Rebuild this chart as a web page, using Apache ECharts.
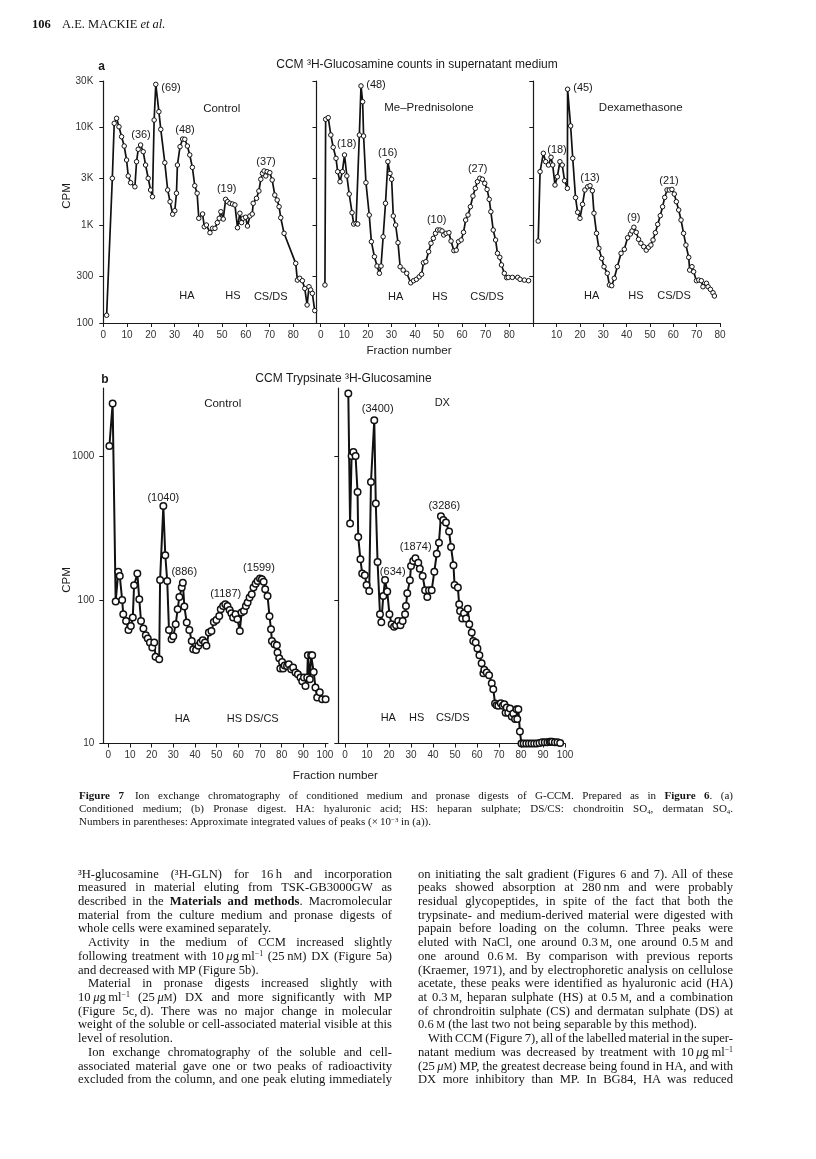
<!DOCTYPE html>
<html><head><meta charset="utf-8">
<script src="https://cdn.jsdelivr.net/npm/echarts@6/dist/echarts.min.js"></script>
<style>
html,body{margin:0;padding:0;background:#fff;}
#page{position:relative;width:816px;height:1159px;overflow:hidden;background:#fff;}
#chart{position:absolute;left:0;top:0;width:816px;height:1159px;}
.ln{position:absolute;font-family:"Liberation Serif","DejaVu Serif",serif;white-space:nowrap;color:#141414;line-height:14px;}
.sc{font-size:78%;}
sup{font-size:0.62em;line-height:0;vertical-align:0.5em;}
sub{font-size:0.62em;line-height:0;vertical-align:-0.3em;}
</style></head>
<body><div id="page"><div id="chart"></div></div>
<script>
// ---------------- DATA ----------------
// Panel a: CPM (log) vs fraction number, [fraction, cpm]
const aControl = [[1.4,120],[3.8,3030],[4.6,11070],[5.6,12450],[6.6,10200],[7.7,8070],[8.8,6480],[9.8,4660],[10.5,3200],[11.5,2730],[13.3,2480],[14,4480],[14.7,6000],[15.7,6640],[16.8,5670],[17.8,4140],[18.9,3030],[19.9,2300],[20.7,1960],[21.4,11960],[22.1,27700],[23.4,14550],[24.2,9600],[25.9,4370],[27.1,2300],[28.1,1745],[29.2,1300],[30.1,1410],[30.8,2130],[31.2,4140],[32.3,6380],[33.4,7640],[34.3,7590],[35.4,6480],[36.4,5250],[37.5,3920],[38.5,2540],[39.5,2130],[40.2,1180],[41.8,1305],[42.5,968],[43.4,1007],[44.9,840],[46,931],[47,931],[48,1065],[48.8,1180],[49.5,1377],[50.5,1160],[51.5,1845],[52.3,1745],[53.3,1680],[54.4,1650],[55.4,1615],[56.5,945],[57.5,1330],[58.2,1065],[58.9,1180],[59.9,1210],[60.7,984],[61.7,1245],[62.7,1305],[63.1,1680],[64.5,1890],[65.5,2245],[66.3,2960],[67,3400],[67.7,3600],[68.4,3200],[69,3540],[70.1,3460],[71.1,2910],[72.2,2040],[73.2,1815],[74,1550],[74.7,1195],[76.1,828],[81,408],[81.7,275],[82.7,287],[83.8,271],[84.8,226],[85.8,153],[86.6,235],[87.3,218],[88,201],[89,134]];
const aMePred = [[1.8,245],[2.1,12160],[3.2,12640],[4.3,8400],[5.3,6290],[6.5,4850],[7.2,3540],[8.2,2795],[9.2,3540],[10.1,5250],[11.1,3200],[12.1,2090],[13.3,1345],[14,1030],[15,1045],[15.7,1030],[16.4,8400],[17.1,26700],[17.8,18400],[18.2,8200],[19.2,2730],[20.6,1275],[21.5,680],[22.8,477],[23.9,383],[24.9,323],[25.6,383],[26.5,764],[27.5,1680],[28.5,4480],[29.4,3400],[30.1,2960],[30.8,1245],[31.8,1007],[32.8,664],[33.7,377],[35,348],[36.5,323],[38.2,258],[39.4,271],[40.6,280],[41.8,297],[42.8,315],[43.6,414],[44.6,424],[45.8,537],[46.8,655],[47.8,736],[48.7,828],[49.6,895],[50.6,895],[51.5,875],[52.2,796],[53.2,828],[54.4,840],[55.3,690],[56.5,550],[57.5,557],[58.5,680],[59.6,708],[60.6,848],[61.5,1133],[62.5,1275],[63.5,1550],[64.6,1995],[65.6,2390],[66.5,2795],[67.5,3030],[68.6,2960],[69.6,2690],[70.6,2330],[71.5,1845],[72.2,1377],[73.2,895],[74.2,708],[75,517],[76,470],[76.7,393],[77.9,323],[78.9,291],[79.6,293],[81.3,293],[83.6,293],[84.6,280],[86.4,275],[88.2,271]];
const aDexa = [[2.1,690],[2.9,3540],[4.3,5460],[5.3,4480],[6.5,4140],[7.6,4970],[8.3,4140],[9.3,2585],[10.3,3140],[11.4,4480],[12.4,4140],[13.4,2860],[14.6,2390],[14.7,24700],[16,10400],[16.9,4850],[18.1,1920],[19,1360],[20,1180],[21.1,1640],[22.1,2300],[23.3,2480],[24.3,2540],[25.3,2260],[26,1330],[27.1,828],[28.1,582],[29.3,459],[30.3,377],[31.7,323],[32.6,245],[33.6,241],[34.7,287],[36,377],[37.6,517],[39,568],[40.4,746],[41.6,815],[42.3,875],[43.1,955],[44.1,848],[45.1,719],[46.1,655],[47.3,604],[48.4,557],[49.4,596],[50.4,628],[51.3,708],[52.3,840],[53.3,1023],[54.4,1255],[55.4,1550],[56.3,1930],[57.3,2300],[58.3,2300],[59.4,2330],[60.4,2090],[61.3,1745],[62.3,1435],[63.3,1133],[64.4,828],[65.4,628],[66.6,470],[67,348],[68,377],[68.7,335],[69.9,271],[70.9,275],[72,271],[72.7,235],[74.2,255],[74.9,235],[75.9,221],[77,204],[77.6,189]];
// Panel b: CPM (log) vs fraction number
const bControl = [[0.5,1183],[2,2337],[3.4,97.5],[4.6,157],[5.3,147],[6.4,100],[6.9,79.5],[8.2,71.4],[9.3,61.8],[10.4,65.9],[11.3,75.4],[11.9,126.6],[13.4,153],[14.3,101],[15.1,71.4],[16.2,63.2],[17.3,56.8],[18.2,53.8],[19.2,50.5],[20.3,46.6],[21.2,50.5],[21.8,40.3],[23.5,38.6],[23.9,137.8],[25.4,452],[26.3,205],[27.2,135.6],[28,61.8],[29.2,53.3],[30,56],[31.1,67.7],[32,86.2],[32.8,105],[33.9,122],[34.4,132],[35.1,90],[36.2,69.6],[37.4,61.8],[38.5,51.8],[39.2,45.3],[40.5,44.9],[41.6,47.9],[42.6,50.5],[43.6,52.4],[44.6,50.5],[45.3,47.9],[46.4,59.3],[47.6,60.9],[48.7,70.3],[49.9,72.5],[51.2,77.4],[51.9,86.2],[53,90.8],[54,93.3],[55,90.8],[56,85.2],[56.8,80.8],[57.6,75.4],[58.7,79.5],[59.6,73.4],[60.7,60.9],[61.5,81.7],[62.6,83.8],[63.5,90.8],[64.3,95.9],[65.2,104],[66.2,109.6],[67,122],[68,130],[68.9,135.6],[70,141],[70.9,139.4],[71.7,134],[72.4,118.7],[73.5,106.6],[74.4,77],[75.1,62.5],[75.5,51.8],[76.7,49.2],[77.8,48.4],[78.1,43],[78.9,39.2],[79.4,33.3],[80.2,37],[80.7,33.3],[81.4,35],[82.5,34.7],[83.3,35.6],[84.4,32.9],[85.3,33.8],[86.4,31.2],[87.5,30.4],[88.7,28.8],[89.5,27.2],[90.3,28.8],[91,25.2],[91.8,28.8],[92.1,41.2],[93,28],[93.6,41.2],[94.1,41.2],[94.8,31.5],[95.6,24.6],[96.4,20.9],[97.6,22.8],[98.7,20.3],[100.3,20.3]];
const bDX = [[1.5,2743],[2.3,341],[3,1007],[3.8,1075],[4.8,1007],[5.7,566],[6,275],[7,192],[7.8,153],[9,149],[9.8,127],[11,115.5],[11.8,664],[13.3,1788],[14,470],[14.8,184],[15.9,79.5],[16.5,70],[17.4,106.6],[18.2,137.9],[19.2,114.4],[20.2,79.5],[21.2,67.7],[22.3,65.2],[23.2,66.6],[24.2,71.4],[25.2,66.6],[26.2,71.4],[27.3,79.5],[27.7,90.8],[28.3,111.3],[29.5,137],[30,172.6],[31,187],[32,195],[33.3,182],[34,165],[35.3,147],[36.4,117],[37.4,105],[38.2,117],[39.4,117],[40.6,157.6],[41.7,210],[42.7,251],[43.6,384],[44.7,361],[45.9,346],[47.3,300],[48.2,234],[49.3,174.6],[49.8,127],[51.3,122],[51.9,93.3],[52.3,83.8],[53.3,74.2],[54.1,80.8],[55,74.2],[55.8,87],[56.5,67.7],[57.6,59.3],[58.3,51.8],[59.4,50.5],[60.2,45.9],[61.1,41.2],[62.1,36.2],[62.9,30.9],[63.3,32.6],[64.4,31.2],[65.5,29.9],[66.7,26.3],[67.4,23.9],[68.2,19],[68.9,18.5],[69.7,18.3],[70.8,19.1],[71.7,18.3],[72.4,18.8],[73,16.4],[73.5,17.8],[74.2,16.4],[75,17.5],[75.8,15.4],[76.5,16.2],[77.3,14.8],[78,17.3],[78.3,14.8],[78.8,17.3],[79.5,12.1],[80.2,10],[81.2,10],[82.4,10],[83.6,10],[84.8,10],[86,10],[87.2,10],[88.4,10.1],[89.6,10.2],[90.8,10.2],[92,10.2],[93,10.3],[93.6,10.3],[94.2,10.3],[95.4,10.2],[96.6,10.2],[97.8,10.1]];

// Tick values / labels
const cpmTicksA = [100, 300, 1000, 3000, 10000, 30000];
const cpmTicksB = [10, 100, 1000];
const fracTicksA = [0, 10, 20, 30, 40, 50, 60, 70, 80];
const fracLabelsA3 = [10, 20, 30, 40, 50, 60, 70, 80];
const fracTicksB = [0, 10, 20, 30, 40, 50, 60, 70, 80, 90, 100];

// Text annotations
const titleA = 'CCM \u00b3H-Glucosamine counts in supernatant medium';
const titleB = 'CCM Trypsinate \u00b3H-Glucosamine';
const annA = [['(69)',171,87.7],['Control',221.7,109],['(36)',141,135],['(48)',185,130],['(19)',226.7,189],['(37)',266,161.7],['HA',187,296],['HS',233,296],['CS/DS',270.7,296.5],
  ['(48)',376,85],['Me\u2013Prednisolone',429,108],['(18)',346.7,144],['(16)',387.7,152.7],['(10)',436.7,220],['(27)',477.7,169],['HA',395.7,296.5],['HS',440,296.5],['CS/DS',487,296.5],
  ['(45)',583,88],['Dexamethasone',640.7,107.7],['(18)',557,150],['(13)',590,177.7],['(9)',633.7,217.7],['(21)',669,181],['HA',591.7,296],['HS',636,296],['CS/DS',674,296]];
const annB = [['Control',222.7,404.3],['(1040)',163.3,497.7],['(886)',184.3,572.3],['(1187)',225.7,594.3],['(1599)',259,567.7],['HA',182.3,719.3],['HS DS/CS',252.7,719.3],
  ['DX',442.3,403.3],['(3400)',377.7,409.3],['(3286)',444.3,505.7],['(1874)',415.7,547.3],['(634)',392.7,572.3],['HA',388.3,717.7],['HS',416.7,717.7],['CS/DS',452.7,717.7]];

// ---------------- CHART ----------------
const SANS = '"Liberation Sans", Arial, sans-serif';
const INK = '#1a1a1a';
const grids = [
  {left:103.3, top:81, width:212.6, height:242},
  {left:316.5, top:81, width:216.2, height:242},
  {left:533.3, top:81, width:186.7, height:242},
  {left:103.3, top:388, width:224.7, height:355.5},
  {left:338.3, top:388, width:226.7, height:355.5}
].map(g => Object.assign({outerBoundsMode:'none', containLabel:false, show:false}, g));

function xAx(gi, min, max, ticks, labels) {
  return {type:'value', gridIndex:gi, min:min, max:max,
    axisLine:{show:true, onZero:false, lineStyle:{color:INK, width:1.2}},
    axisTick:{show:true, inside:false, length:4, customValues:ticks, lineStyle:{color:INK, width:1}},
    axisLabel:{show:true, customValues:labels, margin:7, color:'#333', fontSize:10, fontFamily:SANS},
    splitLine:{show:false}};
}
function fmtK(v){ const r = Math.round(v); return r >= 1000 ? (r/1000) + 'K' : String(r); }
function fmtPlain(v){ return String(Math.round(v)); }
function yAx(gi, min, max, ticks, showLab, margin, fmt) {
  return {type:'log', logBase:10, gridIndex:gi, min:min, max:max,
    axisLine:{show:true, onZero:false, lineStyle:{color:INK, width:1.2}},
    axisTick:{show:true, inside:false, length:4, customValues:ticks, lineStyle:{color:INK, width:1}},
    axisLabel:{show:showLab, customValues:ticks, margin:margin, color:'#333', fontSize:10, fontFamily:SANS, formatter:fmt},
    splitLine:{show:false}, minorTick:{show:false}};
}
function ser(idx, data, big) {
  return {type:'line', xAxisIndex:idx, yAxisIndex:idx, data:data, symbol:'circle',
    symbolSize: big ? 6.5 : 4.5, showAllSymbol:true, animation:false, silent:true,
    lineStyle:{color:'#111', width: big ? 2 : 1.7},
    itemStyle:{color:'#fff', borderColor:'#111', borderWidth: big ? 1.5 : 1}};
}
function txt(t, x, y, size, weight, extra) {
  return Object.assign({type:'text', x:x, y:y, silent:true,
    style:{text:t, fill:INK, font:(weight||'normal') + ' ' + size + 'px ' + SANS, textAlign:'center', textVerticalAlign:'middle'}}, extra||{});
}
const graphics = [];
graphics.push(txt(titleA, 417, 65, 12));
graphics.push(txt(titleB, 343.5, 379, 12));
graphics.push(txt('a', 101.7, 67, 12, 'bold'));
graphics.push(txt('b', 105, 380, 12, 'bold'));
graphics.push(txt('CPM', 67, 196, 11.5, 'normal', {rotation: Math.PI/2}));
graphics.push(txt('CPM', 67, 580, 11.5, 'normal', {rotation: Math.PI/2}));
graphics.push(txt('Fraction number', 409, 351, 11.7));
graphics.push(txt('Fraction number', 335.3, 775.5, 11.7));
annA.forEach(a => graphics.push(txt(a[0], a[1], a[2], /[a-z]/.test(a[0]) ? 11.5 : 11)));
annB.forEach(a => graphics.push(txt(a[0], a[1], a[2], /[a-z]/.test(a[0]) ? 11.5 : 11)));

const option = {
  animation:false,
  backgroundColor:'transparent',
  grid: grids,
  xAxis: [
    xAx(0, 0, 89.5, fracTicksA, fracTicksA),
    xAx(1, -1.78, 89.95, fracTicksA, fracTicksA),
    xAx(2, 0, 80, fracTicksA, fracLabelsA3),
    xAx(3, -2.31, 101.4, fracTicksB, fracTicksB),
    xAx(4, -3.05, 100, fracTicksB, fracTicksB)
  ],
  yAxis: [
    yAx(0, 100, 30000, cpmTicksA, true, 10, fmtK),
    yAx(1, 100, 30000, cpmTicksA, false, 10, fmtK),
    yAx(2, 100, 30000, cpmTicksA, false, 10, fmtK),
    yAx(3, 10, 3000, cpmTicksB, true, 9, fmtPlain),
    yAx(4, 10, 3000, cpmTicksB, false, 9, fmtPlain)
  ],
  series: [ser(0, aControl), ser(1, aMePred), ser(2, aDexa), ser(3, bControl, true), ser(4, bDX, true)],
  graphic: graphics
};
const chart = echarts.init(document.getElementById('chart'), null, {renderer:'canvas'});
chart.setOption(option);

// ---------------- PAGE TEXT ----------------
const SC = s => '<span class="sc">' + s + '</span>';
const TS = '\u2009';
const header = {num:'106', run:'A.E. MACKIE <i>et al.</i>'};
const caption = [
  {h:'<b>Figure 7</b>\u2003Ion exchange chromatography of conditioned medium and pronase digests of G-CCM. Prepared as in <b>Figure 6</b>. (a)'},
  {h:'Conditioned medium; (b) Pronase digest. HA: hyaluronic acid; HS: heparan sulphate; DS/CS: chondroitin SO<sub>4</sub>, dermatan SO<sub>4</sub>.'},
  {h:'Numbers in parentheses: Approximate integrated values of peaks (' + '\u00d7' + TS + '10<sup>\u22123</sup> in (a)).', last:true}
];
const col1 = [
  {h:'\u00b3H-glucosamine (\u00b3H-GLN) for 16' + TS + 'h and incorporation'},
  {h:'measured in material eluting from TSK-GB3000GW as'},
  {h:'described in the <b>Materials and methods</b>. Macromolecular'},
  {h:'material from the culture medium and pronase digests of'},
  {h:'whole cells were examined separately.', last:true},
  {h:'Activity in the medium of CCM increased slightly', ind:true},
  {h:'following treatment with 10' + TS + '<i>\u03bc</i>g' + TS + 'ml<sup>\u22121</sup> (25' + TS + 'n' + SC('M') + ') DX (Figure 5a)'},
  {h:'and decreased with MP (Figure 5b).', last:true},
  {h:'Material in pronase digests increased slightly with', ind:true},
  {h:'10' + TS + '<i>\u03bc</i>g' + TS + 'ml<sup>\u22121</sup> (25' + TS + '<i>\u03bc</i>' + SC('M') + ') DX and more significantly with MP'},
  {h:'(Figure 5c,' + TS + 'd). There was no major change in molecular'},
  {h:'weight of the soluble or cell-associated material visible at this'},
  {h:'level of resolution.', last:true},
  {h:'Ion exchange chromatography of the soluble and cell-', ind:true},
  {h:'associated material gave one or two peaks of radioactivity'},
  {h:'excluded from the column, and one peak eluting immediately'}
];
const col2 = [
  {h:'on initiating the salt gradient (Figures 6 and 7). All of these'},
  {h:'peaks showed absorption at 280' + TS + 'nm and were probably'},
  {h:'residual glycopeptides, in spite of the fact that both the'},
  {h:'trypsinate- and medium-derived material were digested with'},
  {h:'papain before loading on the column. Three peaks were'},
  {h:'eluted with NaCl, one around 0.3' + TS + SC('M') + ', one around 0.5' + TS + SC('M') + ' and'},
  {h:'one around 0.6' + TS + SC('M') + '. By comparison with previous reports'},
  {h:'(Kraemer, 1971), and by electrophoretic analysis on cellulose'},
  {h:'acetate, these peaks were identified as hyaluronic acid (HA)'},
  {h:'at 0.3' + TS + SC('M') + ', heparan sulphate (HS) at 0.5' + TS + SC('M') + ', and a combination'},
  {h:'of chrondroitin sulphate (CS) and dermatan sulphate (DS) at'},
  {h:'0.6' + TS + SC('M') + ' (the last two not being separable by this method).', last:true},
  {h:'With CCM (Figure 7), all of the labelled material in the super-', ind:true},
  {h:'natant medium was decreased by treatment with 10' + TS + '<i>\u03bc</i>g' + TS + 'ml<sup>\u22121</sup>'},
  {h:'(25' + TS + '<i>\u03bc</i>' + SC('M') + ') MP, the greatest decrease being found in HA, and with'},
  {h:'DX more inhibitory than MP. In BG84, HA was reduced'}
];
const page = document.getElementById('page');
function placeLine(html, left, top, width, size, justify) {
  const d = document.createElement('div');
  d.className = 'ln';
  d.style.left = left + 'px';
  d.style.top = top + 'px';
  d.style.fontSize = size + 'px';
  d.innerHTML = html;
  page.appendChild(d);
  if (justify) {
    const w = d.getBoundingClientRect().width;
    const n = (d.textContent.match(/ /g) || []).length;
    if (n > 0) d.style.wordSpacing = ((width - w) / n) + 'px';
  }
  return d;
}
function placeBlock(lines, left, width, center0, step, size, indent) {
  lines.forEach((ln, i) => {
    const ind = ln.ind ? indent : 0;
    placeLine(ln.h, left + ind, center0 + i * step - 7.5, width - ind, size, !ln.last);
  });
}
placeLine('<b>' + header.num + '</b>', 32, 17, 0, 12.5, false);
placeLine(header.run, 62, 17, 0, 12.5, false);
placeBlock(caption, 79, 654, 795, 13.2, 11, 0);
placeBlock(col1, 78, 314, 874, 13.72, 12.6, 10);
placeBlock(col2, 418, 315, 874, 13.72, 12.6, 10);
</script>
</body></html>
